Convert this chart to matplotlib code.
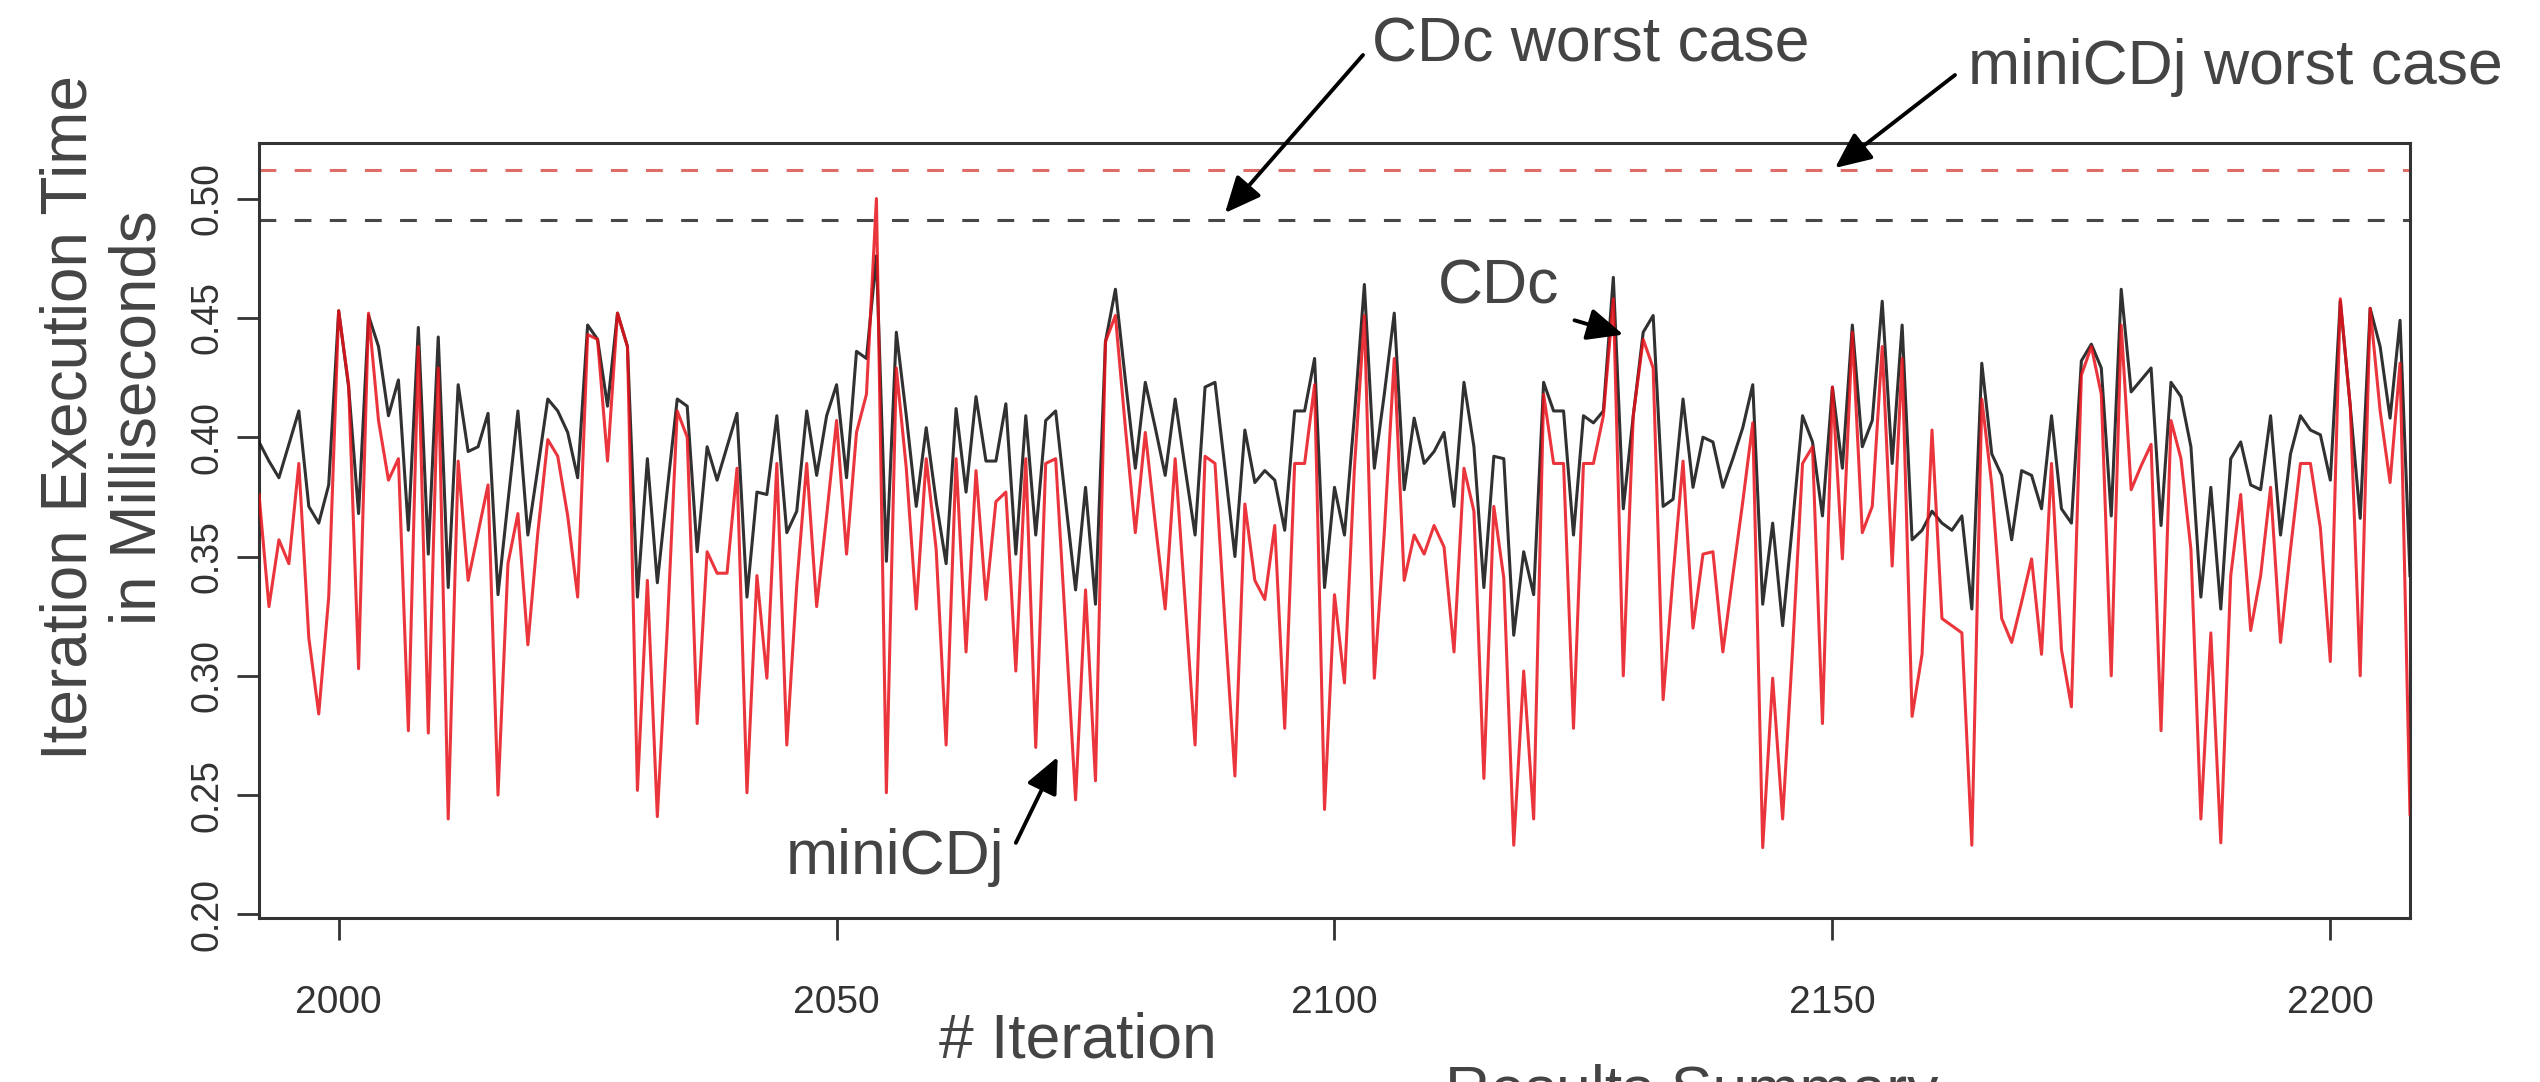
import numpy as np
import matplotlib
matplotlib.use("Agg")
import matplotlib.pyplot as plt

plt.rcParams['font.family'] = ['Liberation Sans', 'DejaVu Sans']

# ---------------- data ----------------
iterations = np.arange(1992, 2209)

cdc = [
    0.398, 0.390, 0.383, 0.397, 0.411, 0.371, 0.364, 0.380, 0.453, 0.421,
    0.368, 0.451, 0.438, 0.409, 0.424, 0.361, 0.446, 0.351, 0.442, 0.337,
    0.422, 0.394, 0.396, 0.410, 0.334, 0.373, 0.411, 0.359, 0.387, 0.416,
    0.411, 0.402, 0.383, 0.447, 0.441, 0.413, 0.452, 0.438, 0.333, 0.391,
    0.339, 0.378, 0.416, 0.413, 0.352, 0.396, 0.382, 0.396, 0.410, 0.333,
    0.377, 0.376, 0.409, 0.360, 0.369, 0.411, 0.384, 0.409, 0.422, 0.383,
    0.436, 0.433, 0.476, 0.348, 0.444, 0.409, 0.371, 0.404, 0.373, 0.347,
    0.412, 0.377, 0.417, 0.390, 0.390, 0.414, 0.351, 0.409, 0.359, 0.407,
    0.411, 0.373, 0.336, 0.379, 0.330, 0.440, 0.462, 0.424, 0.387, 0.423,
    0.404, 0.384, 0.416, 0.387, 0.359, 0.421, 0.423, 0.387, 0.350, 0.403,
    0.381, 0.386, 0.382, 0.361, 0.411, 0.411, 0.433, 0.337, 0.379, 0.359,
    0.409, 0.464, 0.387, 0.418, 0.452, 0.378, 0.408, 0.389, 0.394, 0.402,
    0.371, 0.423, 0.396, 0.337, 0.392, 0.391, 0.317, 0.352, 0.334, 0.423,
    0.411, 0.411, 0.359, 0.409, 0.406, 0.411, 0.467, 0.370, 0.409, 0.444,
    0.451, 0.371, 0.374, 0.416, 0.379, 0.400, 0.398, 0.379, 0.391, 0.404,
    0.422, 0.330, 0.364, 0.321, 0.364, 0.409, 0.398, 0.367, 0.421, 0.387,
    0.447, 0.396, 0.407, 0.457, 0.389, 0.447, 0.357, 0.361, 0.369, 0.364,
    0.361, 0.367, 0.328, 0.431, 0.393, 0.384, 0.357, 0.386, 0.384, 0.370,
    0.409, 0.370, 0.364, 0.432, 0.439, 0.429, 0.367, 0.462, 0.419, 0.424,
    0.429, 0.363, 0.423, 0.417, 0.396, 0.333, 0.379, 0.328, 0.391, 0.398,
    0.380, 0.378, 0.409, 0.359, 0.393, 0.409, 0.403, 0.401, 0.382, 0.457,
    0.413, 0.366, 0.454, 0.438, 0.408, 0.449, 0.342,
]

minicdj = [
    0.376, 0.329, 0.357, 0.347, 0.389, 0.316, 0.284, 0.333, 0.453, 0.422,
    0.303, 0.452, 0.407, 0.382, 0.391, 0.277, 0.438, 0.276, 0.429, 0.240,
    0.390, 0.340, 0.360, 0.380, 0.250, 0.347, 0.368, 0.313, 0.360, 0.399,
    0.392, 0.367, 0.333, 0.443, 0.441, 0.390, 0.452, 0.438, 0.252, 0.340,
    0.241, 0.320, 0.411, 0.400, 0.280, 0.352, 0.343, 0.343, 0.387, 0.251,
    0.342, 0.299, 0.389, 0.271, 0.338, 0.389, 0.329, 0.367, 0.407, 0.351,
    0.402, 0.418, 0.500, 0.251, 0.429, 0.387, 0.328, 0.391, 0.353, 0.271,
    0.391, 0.310, 0.386, 0.332, 0.373, 0.377, 0.302, 0.391, 0.270, 0.389,
    0.391, 0.320, 0.248, 0.336, 0.256, 0.440, 0.451, 0.404, 0.360, 0.402,
    0.364, 0.328, 0.391, 0.331, 0.271, 0.392, 0.389, 0.322, 0.258, 0.372,
    0.340, 0.332, 0.363, 0.278, 0.389, 0.389, 0.422, 0.244, 0.334, 0.297,
    0.387, 0.451, 0.299, 0.360, 0.433, 0.340, 0.359, 0.351, 0.363, 0.354,
    0.310, 0.387, 0.369, 0.257, 0.371, 0.341, 0.229, 0.302, 0.240, 0.418,
    0.389, 0.389, 0.278, 0.389, 0.389, 0.409, 0.458, 0.300, 0.409, 0.441,
    0.429, 0.290, 0.342, 0.390, 0.320, 0.351, 0.352, 0.310, 0.342, 0.373,
    0.406, 0.228, 0.299, 0.240, 0.311, 0.389, 0.396, 0.280, 0.421, 0.349,
    0.444, 0.360, 0.371, 0.438, 0.346, 0.433, 0.283, 0.309, 0.403, 0.324,
    0.321, 0.318, 0.229, 0.416, 0.380, 0.324, 0.314, 0.331, 0.349, 0.309,
    0.389, 0.311, 0.287, 0.426, 0.438, 0.418, 0.300, 0.447, 0.378, 0.388,
    0.397, 0.277, 0.407, 0.391, 0.353, 0.240, 0.318, 0.230, 0.342, 0.376,
    0.319, 0.342, 0.379, 0.314, 0.353, 0.389, 0.389, 0.362, 0.306, 0.458,
    0.413, 0.300, 0.454, 0.411, 0.381, 0.431, 0.242,
]

cdc_worst = 0.491
minicdj_worst = 0.512

x_ticks = [2000, 2050, 2100, 2150, 2200]
y_ticks = [0.20, 0.25, 0.30, 0.35, 0.40, 0.45, 0.50]
y_tick_labels = ["0.20", "0.25", "0.30", "0.35", "0.40", "0.45", "0.50"]

# ---------------- figure ----------------
W, H = 2540, 1082
fig = plt.figure(figsize=(W / 100, H / 100), dpi=100)
ax = fig.add_axes([259 / W, 1 - 918 / H, (2410 - 259) / W, (918 - 143) / H])

TXT = '#444444'
AX = '#333333'

ax.plot(iterations, cdc, color='#1a1a1a', lw=2.2, alpha=0.9, zorder=3)
ax.plot(iterations, minicdj, color='#e8121a', lw=2.2, alpha=0.85, zorder=4)

ax.axhline(minicdj_worst, color='#d9534f', lw=2.2, dashes=(5.5, 6), alpha=0.85, zorder=2)
ax.axhline(cdc_worst, color='#333333', lw=2.2, dashes=(5.5, 6), alpha=0.9, zorder=2)

ax.set_xlim(1992, 2208)
ax.set_ylim(0.1985, 0.5233)

ax.set_xticks(x_ticks)
ax.set_xticklabels([str(v) for v in x_ticks], fontsize=28, color='#333333')
ax.set_yticks(y_ticks)
ax.set_yticklabels(y_tick_labels, fontsize=27, color='#333333', rotation=90, va='center')
ax.tick_params(axis='x', length=16, width=2.0, pad=32, color=AX)
ax.tick_params(axis='y', length=16, width=2.0, pad=8, color=AX)
for s in ax.spines.values():
    s.set_linewidth(2.2)
    s.set_color(AX)

# ---------------- text & arrows ----------------
arrow_kw = dict(arrowstyle='-|>,head_length=1.0,head_width=0.45', color='black',
                lw=2.8, mutation_scale=22, shrinkA=0, shrinkB=0)

fig.text(1372 / W, 1 - 62 / H, "CDc worst case", fontsize=45, color=TXT,
         ha='left', va='baseline')
ax.annotate("", xy=(1225, H - 213), xycoords='figure pixels',
            xytext=(1363, H - 55), textcoords='figure pixels', arrowprops=arrow_kw)

fig.text(1968 / W, 1 - 84 / H, "miniCDj worst case", fontsize=45, color=TXT,
         ha='left', va='baseline')
ax.annotate("", xy=(1835, H - 168), xycoords='figure pixels',
            xytext=(1955, H - 75), textcoords='figure pixels', arrowprops=arrow_kw)

ax.text(2110.4, 0.456, "CDc", fontsize=45, color=TXT, ha='left', va='baseline', zorder=6)
ax.annotate("", xy=(2129.0, 0.443), xycoords='data', xytext=(2124.1, 0.449),
            textcoords='data', arrowprops=arrow_kw, zorder=6)

ax.text(2044.9, 0.217, "miniCDj", fontsize=45, color=TXT, ha='left', va='baseline', zorder=6)
ax.annotate("", xy=(2072.2, 0.266), xycoords='data', xytext=(2068.0, 0.230),
            textcoords='data', arrowprops=arrow_kw, zorder=6)

fig.text(104 / W, 1 - 418 / H, "Iteration Execution Time\nin Milliseconds", fontsize=46,
         color=TXT, rotation=90, ha='center', va='center', multialignment='center',
         linespacing=1.2)

fig.text(1078 / W, 1 - 1058 / H, "# Iteration", fontsize=45, color=TXT,
         ha='center', va='baseline')
fig.text(1445 / W, 1 - 1110 / H, "Results Summary", fontsize=45, color=TXT,
         ha='left', va='baseline')

fig.savefig("out.png", dpi=100)
